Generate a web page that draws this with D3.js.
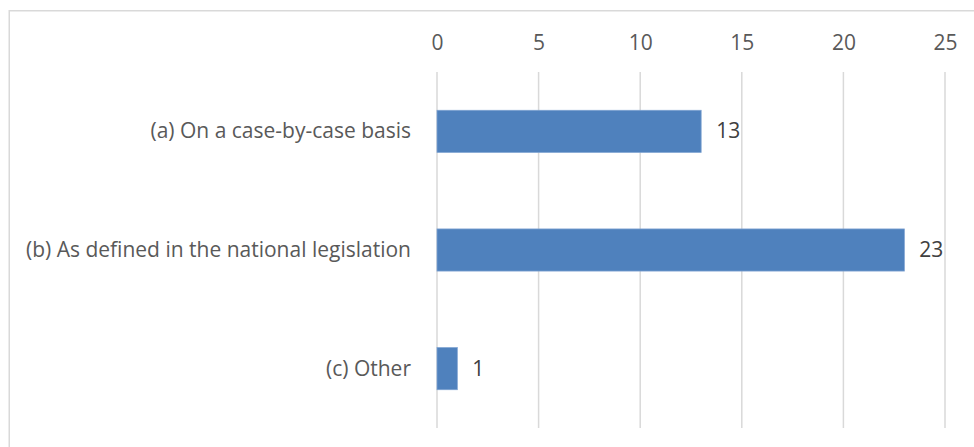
<!DOCTYPE html>
<html>
<head>
<meta charset="utf-8">
<script src="https://cdn.jsdelivr.net/npm/d3@7"></script>
<style>
  html, body { margin: 0; padding: 0; background: #fff; }
  svg { display: block; }
  text { font-family: "Open Sans", "Noto Sans", sans-serif; }
</style>
</head>
<body>
<svg id="chart" width="974" height="447"></svg>
<script>
// Responses per option
const categories = [
  "(a) On a case-by-case basis",
  "(b) As defined in the national legislation",
  "(c) Other"
];
const values = [13, 23, 1];
const tickValues = [0, 5, 10, 15, 20, 25];

const svg = d3.select("#chart");
const W = 974, H = 447;
const plot = { left: 437, right: 945, top: 72, bottom: 428 };
const fontSize = 21;

// Chart frame (runs past the right and bottom edges)
svg.append("rect")
  .attr("x", 9.25).attr("y", 10.75)
  .attr("width", W + 20).attr("height", H + 20)
  .attr("fill", "#fff")
  .attr("stroke", "#d9d9d9")
  .attr("stroke-width", 1.5);

const x = d3.scaleLinear().domain([0, 25]).range([plot.left, plot.right]);
const y = d3.scaleBand().domain(categories)
  .range([plot.top, plot.bottom])
  .paddingInner(0.645).paddingOuter(0.3225);

// Vertical gridlines
svg.append("g")
  .selectAll("line")
  .data(tickValues)
  .join("line")
  .attr("x1", d => x(d)).attr("x2", d => x(d))
  .attr("y1", plot.top).attr("y2", plot.bottom)
  .attr("stroke", "#d9d9d9")
  .attr("stroke-width", 1.5);

// Top axis labels
const axis = d3.axisTop(x).tickValues(tickValues).tickSize(0).tickPadding(0);
const gAxis = svg.append("g").attr("transform", "translate(0,50)").call(axis);
gAxis.select(".domain").remove();
gAxis.selectAll("text")
  .attr("font-size", fontSize)
  .attr("font-family", "Open Sans, Noto Sans, sans-serif")
  .attr("fill", "#595959");

// Bars
svg.append("g")
  .selectAll("rect")
  .data(values)
  .join("rect")
  .attr("x", x(0))
  .attr("y", (d, i) => y(categories[i]))
  .attr("width", d => x(d) - x(0))
  .attr("height", y.bandwidth())
  .attr("fill", "#4f81bd")
  .attr("stroke", "#7ea2d1")
  .attr("stroke-width", 0.75);

// Value labels
svg.append("g")
  .selectAll("text")
  .data(values)
  .join("text")
  .attr("x", d => x(d) + 15)
  .attr("y", (d, i) => y(categories[i]) + y.bandwidth() / 2)
  .attr("dy", "0.33em")
  .attr("font-size", fontSize)
  .attr("fill", "#404040")
  .text(d => d);

// Category labels
svg.append("g")
  .selectAll("text")
  .data(categories)
  .join("text")
  .attr("x", 411)
  .attr("y", d => y(d) + y.bandwidth() / 2)
  .attr("dy", "0.33em")
  .attr("text-anchor", "end")
  .attr("font-size", fontSize)
  .attr("fill", "#595959")
  .text(d => d);
</script>
</body>
</html>
